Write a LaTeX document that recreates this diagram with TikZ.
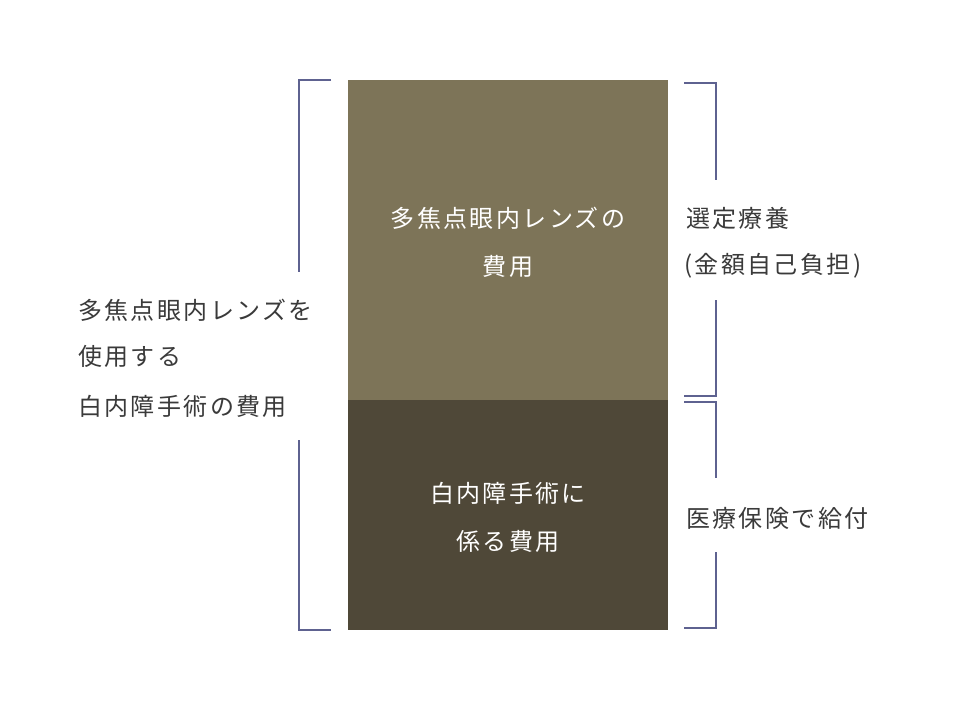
\documentclass[tikz,border=0pt]{standalone}
\usepackage{fontspec}
\setmainfont{Noto Sans CJK JP}[LetterSpace=10]
\definecolor{topc}{HTML}{7D7458}
\definecolor{botc}{HTML}{4F4838}
\definecolor{brk}{HTML}{5E6290}
\definecolor{txt}{HTML}{3A3A3A}
\begin{document}
\begin{tikzpicture}[x=1pt,y=-1pt,
  lbl/.style={font=\fontsize{24}{28}\selectfont, text=txt, inner sep=0pt},
  inbox/.style={font=\fontsize{24}{28}\selectfont, text=white, inner sep=0pt},
  br/.style={draw=brk, line width=1.5pt}]
\useasboundingbox (0,0) rectangle (960,710);
\fill[white] (0,0) rectangle (960,710);
\node[fill=topc, minimum width=320pt, minimum height=320pt, anchor=north west, inner sep=0pt] (top) at (348,80) {};
\node[fill=botc, minimum width=320pt, minimum height=230pt, anchor=north west, inner sep=0pt] (bot) at (348,400) {};
\node[inbox] (t1) at (508,218) {多焦点眼内レンズの};
\node[inbox] (t2) at (508,266) {費用};
\node[inbox] (b1) at (508,493) {白内障手術に};
\node[inbox] (b2) at (508,541) {係る費用};
\node[lbl, anchor=west] (r1) at (686,218) {選定療養};
\node[lbl, anchor=west] (r2) at (684,266) {(金額自己負担)};
\node[lbl, anchor=west] (r3) at (686,518) {医療保険で給付};
\node[lbl, anchor=west] (l1) at (78,310) {多焦点眼内レンズを};
\node[lbl, anchor=west] (l2) at (78,356) {使用する};
\node[lbl, anchor=west] (l3) at (78,406) {白内障手術の費用};
\draw[br] (331,80) -- (299,80) -- (299,272);
\draw[br] (299,440) -- (299,630) -- (331,630);
\draw[br] (684,83) -- (716,83) -- (716,180);
\draw[br] (716,300) -- (716,396) -- (684,396);
\draw[br] (684,402) -- (716,402) -- (716,478);
\draw[br] (716,552) -- (716,628) -- (684,628);
\end{tikzpicture}
\end{document}
